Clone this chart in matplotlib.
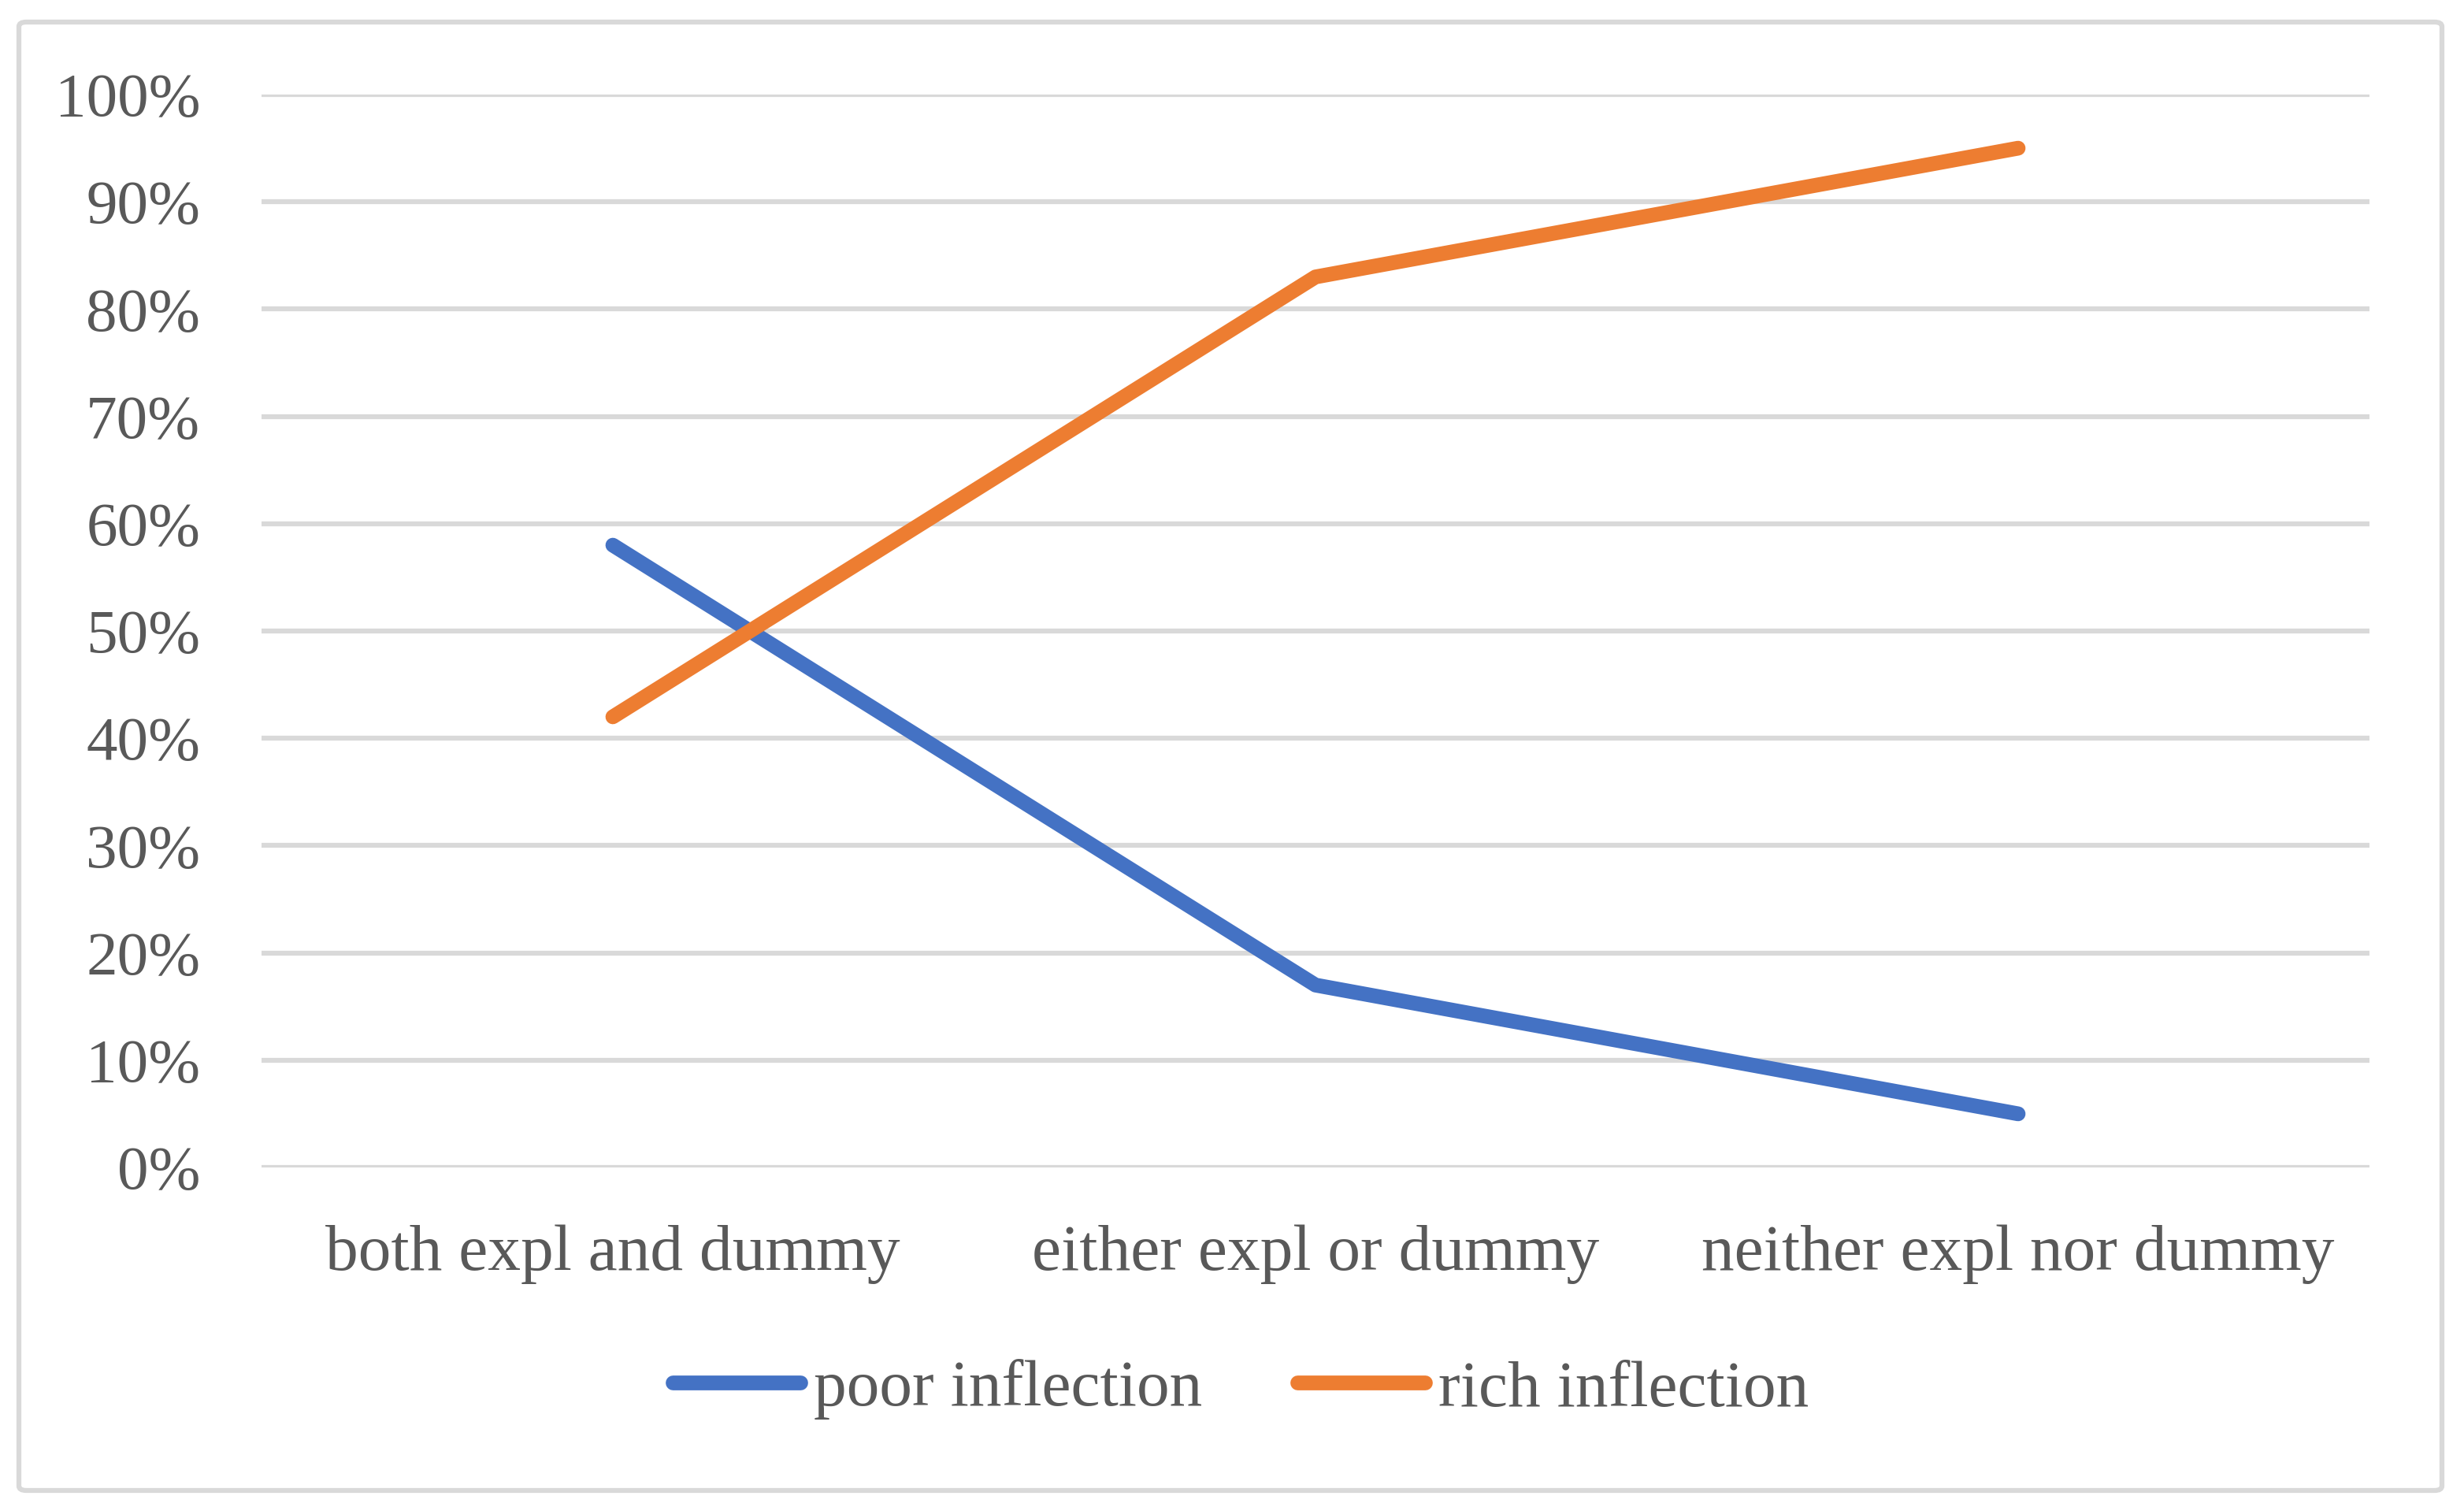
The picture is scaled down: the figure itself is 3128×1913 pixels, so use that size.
import matplotlib.pyplot as plt
from matplotlib.lines import Line2D
from matplotlib.patches import FancyBboxPatch
from matplotlib.ticker import PercentFormatter

# Data
categories = ["both expl and dummy", "either expl or dummy", "neither expl nor dummy"]
poor_inflection = [0.58, 0.17, 0.05]
rich_inflection = [0.42, 0.83, 0.95]
y_ticks = [0, 0.1, 0.2, 0.3, 0.4, 0.5, 0.6, 0.7, 0.8, 0.9, 1.0]

blue = "#4472C4"
orange = "#ED7D31"
grid_gray = "#D9D9D9"
text_gray = "#595959"

plt.rcParams["font.family"] = ["Liberation Serif", "DejaVu Serif"]
fs = 60

W, H = 3128, 1913
fig = plt.figure(figsize=(W / 100, H / 100), dpi=100)
ax = fig.add_axes([332 / W, 1 - 1482 / H, (3008 - 332) / W, (1482 - 120) / H])

x = range(len(categories))
ax.plot(x, poor_inflection, color=blue, linewidth=13.5, solid_capstyle="round",
        solid_joinstyle="round", zorder=3)
ax.plot(x, rich_inflection, color=orange, linewidth=13.5, solid_capstyle="round",
        solid_joinstyle="round", zorder=3)

ax.set_xlim(-0.5, len(categories) - 0.5)
ax.set_ylim(0, 1)
ax.set_yticks(y_ticks)
ax.yaxis.set_major_formatter(PercentFormatter(1.0, decimals=0))
ax.set_xticks(list(x))
ax.set_xticklabels(categories)
ax.tick_params(axis="both", length=0, labelsize=fs, labelcolor=text_gray)
ax.tick_params(axis="y", pad=56, labelsize=57)
ax.tick_params(axis="x", pad=52)
ax.grid(axis="y", color=grid_gray, linewidth=4.5)
ax.set_axisbelow(True)
for s in ax.spines.values():
    s.set_visible(False)

handles = [Line2D([], [], color=blue, linewidth=13.5, solid_capstyle="round"),
           Line2D([], [], color=orange, linewidth=13.5, solid_capstyle="round")]
leg = fig.legend(handles, ["poor inflection", "rich inflection"], loc="center",
                 bbox_to_anchor=(0.5035, 1 - 1764 / H), ncol=2, frameon=False,
                 fontsize=fs, handlelength=1.95, handletextpad=0.2,
                 columnspacing=1.45, borderaxespad=0)
for t in leg.get_texts():
    t.set_color(text_gray)

# outer chart border
frame = FancyBboxPatch((24 / W, 1 - 1892 / H), (3100 - 24) / W, (1892 - 28) / H,
                       boxstyle="round,pad=0,rounding_size=0.003",
                       transform=fig.transFigure, facecolor="none",
                       edgecolor=grid_gray, linewidth=4.5)
fig.patches.append(frame)

fig.savefig("out.png", dpi=100, facecolor="white")
